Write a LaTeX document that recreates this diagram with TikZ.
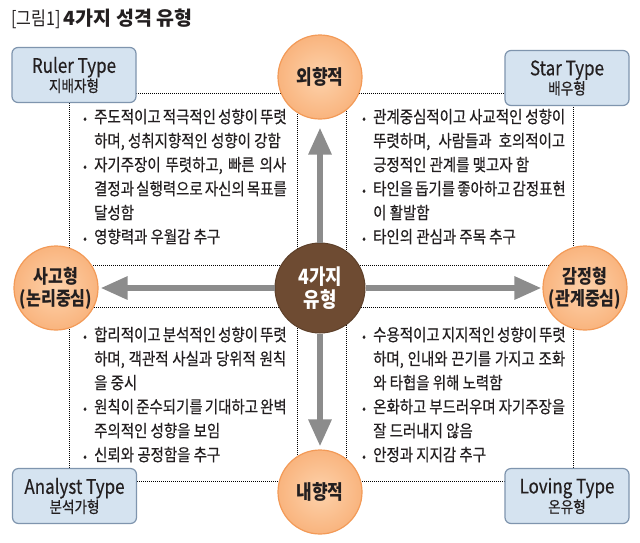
\documentclass[tikz,border=0pt]{standalone}
\usepackage{fontspec}
\setmainfont{Noto Sans CJK KR}[FakeStretch=0.85]
\newfontfamily\bodyfont{Noto Sans CJK KR}[FakeStretch=0.85, FakeBold=0.4]
\newfontfamily\titlefont{Noto Sans CJK KR}
\usetikzlibrary{arrows.meta}
\definecolor{boxfill}{HTML}{D5E3F0}
\definecolor{boxdraw}{HTML}{7F95AE}
\definecolor{orin}{HTML}{FDD2AB}
\definecolor{orout}{HTML}{F9B47E}
\definecolor{ordraw}{HTML}{F39A57}
\definecolor{cenbrown}{HTML}{6E4B32}
\definecolor{arrgray}{HTML}{8C8C8C}
\definecolor{txt}{HTML}{231F20}
\newcommand{\bitem}[1]{\makebox[11pt][l]{\fontsize{13}{13}\selectfont •}#1\par}
\newcommand{\contl}[1]{\hspace*{11pt}#1\par}
\newcommand{\jst}[1]{\makebox[192pt][s]{#1}}
\newcommand{\blocktext}[1]{\parbox[t]{215pt}{\bodyfont\fontsize{17}{24}\selectfont\parindent0pt\parskip0pt #1}}
\begin{document}
\begin{tikzpicture}[x=1pt,y=-1pt,
  dotline/.style={draw=black, line width=0.8pt, dash pattern=on 1pt off 1pt},
  tbox/.style={draw=boxdraw, fill=boxfill, line width=1.2pt, rounded corners=6pt,
    minimum width=124pt, minimum height=55pt, inner sep=0pt, align=center, text=txt,
    font=\bodyfont\fontsize{16}{17}\selectfont},
  orc/.style={circle, draw=ordraw, inner color=orin, outer color=orout, line width=1.2pt, minimum size=84pt,
    inner sep=0pt, align=center, text=txt, font=\bfseries\fontsize{19}{22}\selectfont},
  cenc/.style={circle, draw=cenbrown!85!black, fill=cenbrown, line width=1pt, minimum size=90pt,
    inner sep=0pt, align=center, text=white, font=\bfseries\fontsize{21}{23}\selectfont},
  arr/.style={draw=arrgray, line width=6pt, -{Triangle[width=22pt,length=27pt]}},
  blk/.style={anchor=base west, inner sep=0pt, text=txt}
]
\useasboundingbox (0,0) rectangle (640,542);
\fill[white] (0,0) rectangle (640,542);

% dotted frames
\draw[dotline] (69,93) rectangle (297,265);
\draw[dotline] (346,93) rectangle (573,265);
\draw[dotline] (69,307) rectangle (297,481);
\draw[dotline] (346,307) rectangle (573,481);

% title
\node[anchor=base west, inner sep=0pt, text=txt] (title) at (11,25)
  {\fontsize{19}{20}\selectfont [그림1]\,{\titlefont\bfseries\fontsize{19.5}{20}\selectfont 4가지 성격 유형}};

% type boxes
\node[tbox] (ruler) at (74,75) {{\fontsize{20}{20}\selectfont Ruler Type}\\지배자형};
\node[tbox] (star) at (567,78) {{\fontsize{20}{20}\selectfont Star Type}\\배우형};
\node[tbox] (analyst) at (74.5,496) {{\fontsize{20}{20}\selectfont Analyst Type}\\분석가형};
\node[tbox] (loving) at (567,496) {{\fontsize{20}{20}\selectfont Loving Type}\\온유형};

% circles
\node[cenc] (cen) at (320,288) {4가지\\유형};
\node[orc] (ext) at (320,77) {\fontsize{20}{22}\selectfont 외향적};
\node[orc] (int) at (320,492) {\fontsize{20}{22}\selectfont 내향적};
\node[orc] (think) at (56,288) {사고형\\(논리중심)};
\node[orc] (feel) at (585,288) {감정형\\(관계중심)};

% arrows
\draw[arr, shorten >=8pt] (cen) -- (ext);
\draw[arr, shorten >=3pt] (cen) -- (int);
\draw[arr, shorten >=2pt] (cen) -- (think);
\draw[arr, shorten >=1pt] (cen) -- (feel);

% text blocks
\node[blk] (tl) at (83,123) {\blocktext{%
\bitem{\jst{주도적이고 적극적인 성향이 뚜렷}}
\contl{하며, 성취지향적인 성향이 강함}
\bitem{\jst{자기주장이 뚜렷하고, 빠른 의사}}
\contl{\jst{결정과 실행력으로 자신의 목표를}}
\contl{달성함}
\bitem{영향력과 우월감 추구}}};

\node[blk] (tr) at (362,123) {\blocktext{%
\bitem{\jst{관계중심적이고 사교적인 성향이}}
\contl{\jst{뚜렷하며, 사람들과 호의적이고}}
\contl{긍정적인 관계를 맺고자 함}
\bitem{\jst{타인을 돕기를 좋아하고 감정표현}}
\contl{이 활발함}
\bitem{타인의 관심과 주목 추구}}};

\node[blk] (bl) at (83,341) {\blocktext{%
\bitem{\jst{합리적이고 분석적인 성향이 뚜렷}}
\contl{\jst{하며, 객관적 사실과 당위적 원칙}}
\contl{을 중시}
\bitem{\jst{원칙이 준수되기를 기대하고 완벽}}
\contl{주의적인 성향을 보임}
\bitem{신뢰와 공정함을 추구}}};

\node[blk] (br) at (362,341) {\blocktext{%
\bitem{\jst{수용적이고 지지적인 성향이 뚜렷}}
\contl{\jst{하며, 인내와 끈기를 가지고 조화}}
\contl{와 타협을 위해 노력함}
\bitem{\jst{온화하고 부드러우며 자기주장을}}
\contl{잘 드러내지 않음}
\bitem{안정과 지지감 추구}}};
\end{tikzpicture}
\end{document}
